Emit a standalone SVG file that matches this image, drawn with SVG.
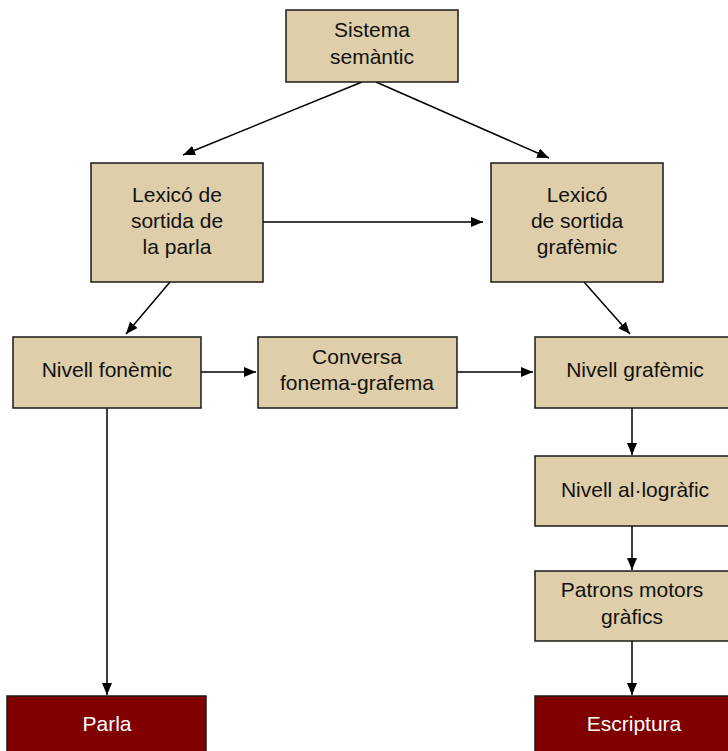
<svg xmlns="http://www.w3.org/2000/svg" width="728" height="751" viewBox="0 0 728 751">
  <defs>
    <marker id="arrow" viewBox="0 0 12 10" refX="12" refY="5" markerWidth="12" markerHeight="10" markerUnits="userSpaceOnUse" orient="auto">
      <path d="M0,0 L12,5 L0,10 Z" fill="#000"/>
    </marker>
  </defs>
  <style>
    .box { fill: #DFCEAA; stroke: #1a1a1a; stroke-width: 1.5; }
    .out { fill: #800000; stroke: #1a1a1a; stroke-width: 1.5; }
    .lbl { font-family: "Liberation Sans", Arial, sans-serif; font-size: 21px; fill: #111; text-anchor: middle; }
    .lbl-w { font-family: "Liberation Sans", Arial, sans-serif; font-size: 21px; fill: #fff; text-anchor: middle; }
    .edge { stroke: #000; stroke-width: 1.5; fill: none; marker-end: url(#arrow); }
  </style>
  <rect width="728" height="751" fill="#fff"/>

  <g id="connectors">
    <line class="edge" x1="362" y1="82" x2="183" y2="155"/>
    <line class="edge" x1="376" y1="82" x2="549" y2="158"/>
    <line class="edge" x1="263" y1="222" x2="483" y2="222"/>
    <line class="edge" x1="170" y1="282" x2="126" y2="334"/>
    <line class="edge" x1="584" y1="282" x2="630" y2="334"/>
    <line class="edge" x1="201" y1="372" x2="256" y2="372"/>
    <line class="edge" x1="457" y1="372" x2="533" y2="372"/>
    <line class="edge" x1="632" y1="408" x2="632" y2="455"/>
    <line class="edge" x1="632" y1="526" x2="632" y2="570"/>
    <line class="edge" x1="632" y1="641" x2="632" y2="695"/>
    <line class="edge" x1="107" y1="408" x2="107" y2="695"/>
  </g>

  <g id="sistema-semantic">
    <rect class="box" x="286" y="10" width="172" height="72"/>
    <text class="lbl" x="372" y="37">Sistema</text>
    <text class="lbl" x="372" y="64">semàntic</text>
  </g>

  <g id="lexico-parla">
    <rect class="box" x="91" y="163" width="172" height="119"/>
    <text class="lbl" x="177" y="202">Lexicó de</text>
    <text class="lbl" x="177" y="228">sortida de</text>
    <text class="lbl" x="177" y="254"> la parla</text>
  </g>

  <g id="lexico-grafemic">
    <rect class="box" x="491" y="163" width="172" height="119"/>
    <text class="lbl" x="577" y="202">Lexicó</text>
    <text class="lbl" x="577" y="228">de sortida</text>
    <text class="lbl" x="577" y="254">grafèmic</text>
  </g>

  <g id="nivell-fonemic">
    <rect class="box" x="13" y="337" width="188" height="71"/>
    <text class="lbl" x="107" y="377">Nivell fonèmic</text>
  </g>

  <g id="conversa">
    <rect class="box" x="258" y="337" width="199" height="71"/>
    <text class="lbl" x="357" y="364">Conversa</text>
    <text class="lbl" x="357" y="390">fonema-grafema</text>
  </g>

  <g id="nivell-grafemic">
    <rect class="box" x="535" y="337" width="200" height="71"/>
    <text class="lbl" x="635" y="377">Nivell grafèmic</text>
  </g>

  <g id="nivell-allografic">
    <rect class="box" x="535" y="456" width="200" height="70"/>
    <text class="lbl" x="635" y="497">Nivell al·logràfic</text>
  </g>

  <g id="patrons-motors">
    <rect class="box" x="535" y="571" width="200" height="70"/>
    <text class="lbl" x="632" y="597">Patrons motors</text>
    <text class="lbl" x="632" y="624">gràfics</text>
  </g>

  <g id="parla">
    <rect class="out" x="7" y="696" width="199" height="70"/>
    <text class="lbl-w" x="107" y="731">Parla</text>
  </g>

  <g id="escriptura">
    <rect class="out" x="535" y="696" width="200" height="70"/>
    <text class="lbl-w" x="634" y="731">Escriptura</text>
  </g>
</svg>
